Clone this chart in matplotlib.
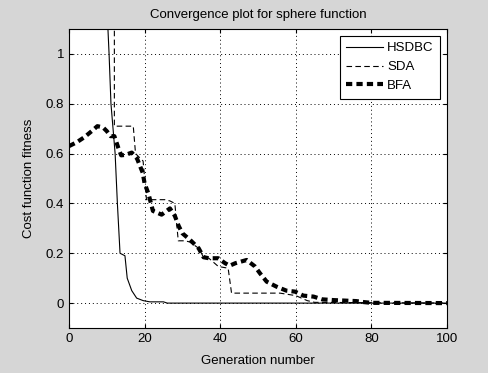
import matplotlib
matplotlib.use("Agg")
import matplotlib.pyplot as plt

# data
hsdbc_x = [10.0, 10.6, 11.1, 12.2, 12.8, 13.5, 14.8, 15.4, 16.6, 17.9, 19.6, 21.4, 25.0, 26.0, 100]
hsdbc_y = [1.2, 1.0, 0.8, 0.6, 0.4, 0.2, 0.19, 0.1, 0.05, 0.02, 0.01, 0.005, 0.005, 0.0, 0.0]

sda_x = [12.0, 12.0, 17.0, 17.6, 19.6, 20.5, 25.4, 26.7, 28.0, 28.9, 30.7, 32.0, 34.3, 35.6, 37.0, 39.5,
         42.1, 43.0, 55.8, 60.0, 63.0, 65.0, 100]
sda_y = [1.2, 0.71, 0.71, 0.6, 0.57, 0.415, 0.415, 0.41, 0.40, 0.25, 0.25, 0.245, 0.22, 0.184, 0.18, 0.147,
         0.14, 0.04, 0.04, 0.03, 0.01, 0.003, 0.0]

bfa_x = [0, 2, 4, 6, 7.5, 9, 10, 11, 12, 13, 13.8, 15, 16.6, 18, 19.5, 20, 21, 22.2, 24.5, 26.7, 28, 29,
         30, 32, 34.3, 35.6, 37, 39.5, 41.3, 42.5, 44, 47, 49.2, 50.5, 52.3, 54.9, 57.5, 59.8, 62, 64.7,
         67, 70, 73, 76, 78, 80, 100]
bfa_y = [0.63, 0.645, 0.665, 0.69, 0.71, 0.705, 0.69, 0.67, 0.67, 0.625, 0.593, 0.595, 0.604, 0.58, 0.523,
         0.48, 0.44, 0.37, 0.355, 0.38, 0.35, 0.31, 0.28, 0.254, 0.22, 0.184, 0.18, 0.18, 0.16, 0.15, 0.16,
         0.173, 0.147, 0.12, 0.086, 0.066, 0.05, 0.046, 0.03, 0.026, 0.015, 0.012, 0.01, 0.008, 0.004, 0.001, 0.0]

plt.rcParams['font.family'] = ['Liberation Sans', 'DejaVu Sans']
plt.rcParams['font.size'] = 9.5

fig = plt.figure(figsize=(4.88, 3.73), dpi=100, facecolor='#d6d6d6')
ax = fig.add_axes([0.1414, 0.1206, 0.7746, 0.8017])

ax.plot(hsdbc_x, hsdbc_y, color='black', lw=0.8, label='HSDBC')
ax.plot(sda_x, sda_y, color='black', lw=0.8, ls=(0, (5, 3)), label='SDA')
ax.plot(bfa_x, bfa_y, color='black', lw=3.0, ls=(0, (1.5, 1.0)), label='BFA')

ax.set_xlim(0, 100)
ax.set_ylim(-0.1, 1.1)
ax.set_xticks([0, 20, 40, 60, 80, 100])
ax.set_yticks([0, 0.2, 0.4, 0.6, 0.8, 1])
ax.set_yticklabels(['0', '0.2', '0.4', '0.6', '0.8', '1'])
ax.grid(True, color='black', ls=(0, (1, 3)), lw=0.7)
ax.tick_params(direction='in', top=True, right=True, length=3, labelsize=9.5)
for s in ax.spines.values():
    s.set_linewidth(0.8)

ax.set_title('Convergence plot for sphere function', fontsize=9.5, pad=8)
ax.set_xlabel('Generation number', fontsize=9.5, labelpad=7)
ax.set_ylabel('Cost function fitness', fontsize=9.5, labelpad=8)

leg = ax.legend(loc='upper right', fancybox=False, framealpha=1, edgecolor='black',
                handlelength=2.8, handletextpad=0.3, borderaxespad=0.5, fontsize=9.5,
                labelspacing=0.5, borderpad=0.5)
leg.get_frame().set_linewidth(0.8)

fig.savefig('out.png', dpi=100, facecolor=fig.get_facecolor())
